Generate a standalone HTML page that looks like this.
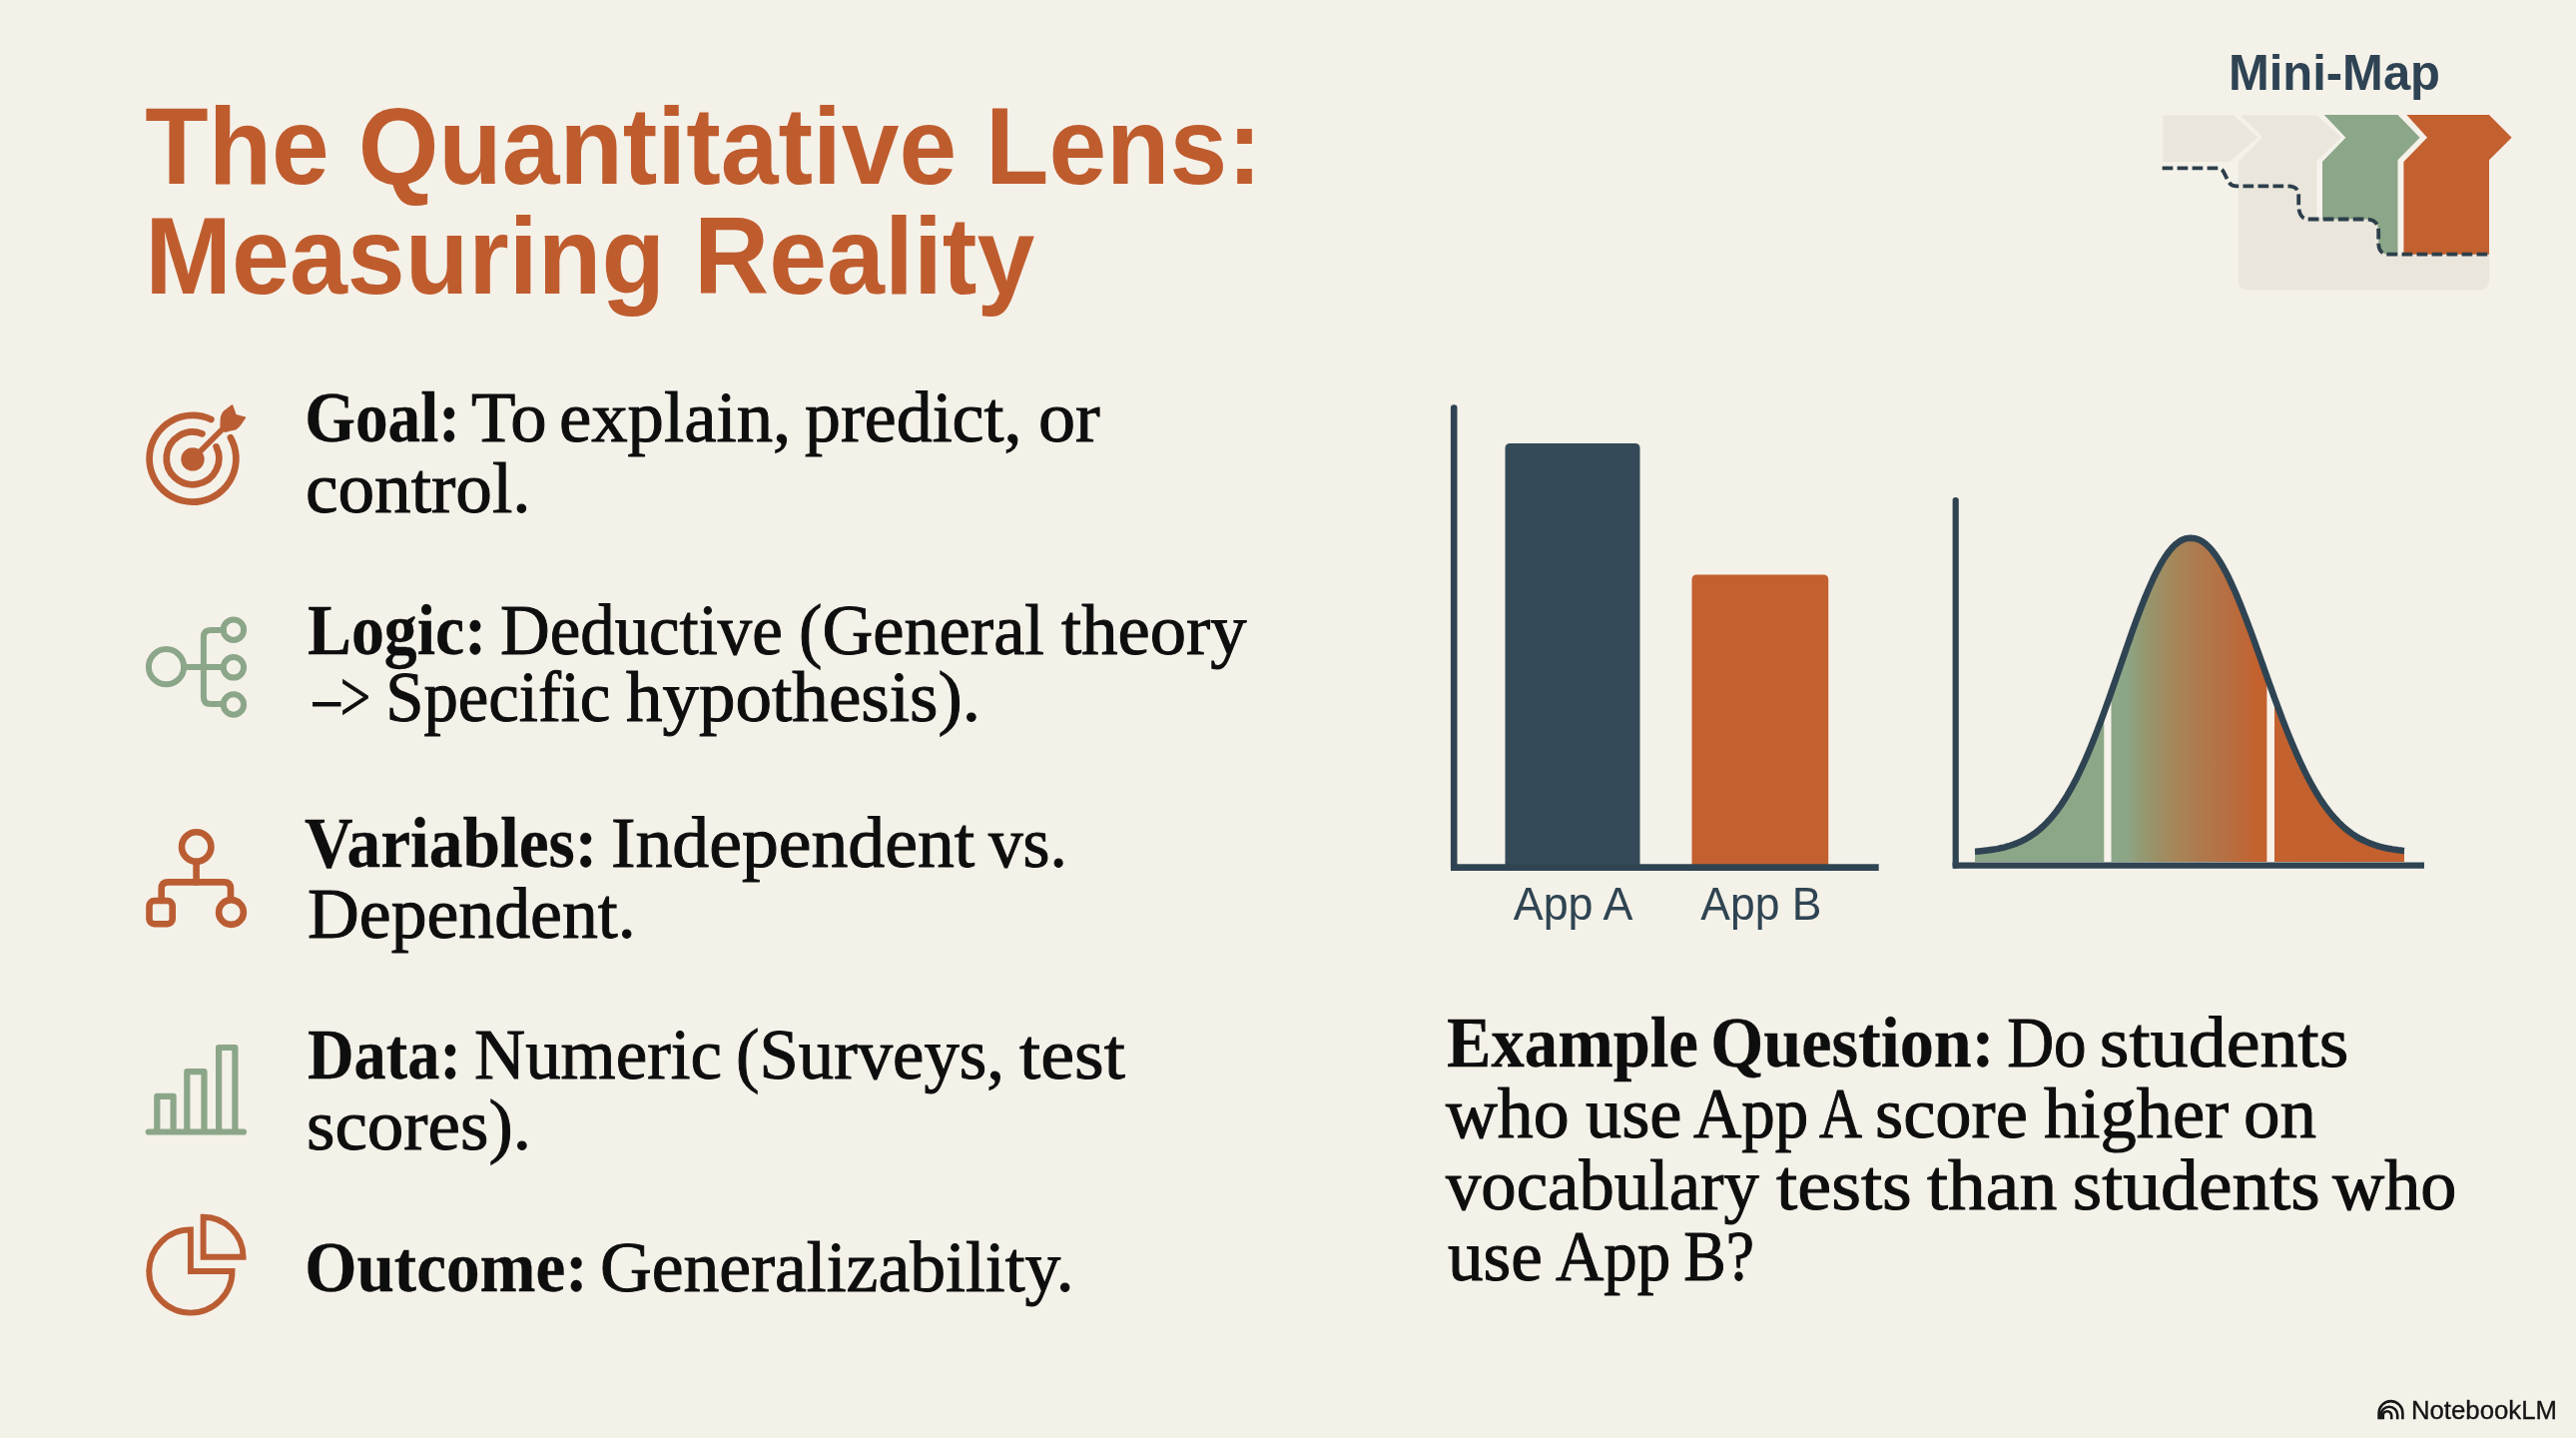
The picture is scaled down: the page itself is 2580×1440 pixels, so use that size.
<!DOCTYPE html>
<html><head><meta charset="utf-8"><title>The Quantitative Lens</title>
<style>
html,body{margin:0;padding:0;background:#F4F1E9;}
body{width:2580px;height:1440px;overflow:hidden;position:relative;}
svg{position:absolute;left:0;top:0;}
.serif text{font-family:"Liberation Serif",serif;}
</style></head>
<body>
<svg width="2580" height="1440" viewBox="0 0 2580 1440">
  <rect width="2580" height="1440" fill="#F4F1E9"/>
  <g font-family="Liberation Sans, sans-serif" font-weight="bold" fill="#BF5C2E" font-size="109">
    <text id="title1" x="145.3707782936343" y="183.6" textLength="1118.38" lengthAdjust="spacingAndGlyphs">The Quantitative Lens:</text>
    <text id="title2" x="145.23246974060257" y="294.4" textLength="891.21" lengthAdjust="spacingAndGlyphs">Measuring Reality</text>
  </g>
  <text id="minimap" x="2231.889006259093" y="89.8" font-family="Liberation Sans, sans-serif" font-weight="bold" font-size="50.5" fill="#2E4353" textLength="212.15" lengthAdjust="spacingAndGlyphs">Mini-Map</text>
  
  <g>
    <!-- big light rounded rect + second chevron -->
    <path d="M 2244.5 115.6 L 2320 115.6 L 2345 137.6 L 2320.4 161 L 2320.4 217 L 2483 217 Q 2493 217 2493 227 L 2493 280.6 Q 2493 290.6 2483 290.6 L 2251.8 290.6 Q 2241.8 290.6 2241.8 280.6 L 2241.8 162 L 2266 137.6 Z" fill="#EAE6DC"/>
    <!-- first chevron -->
    <path d="M 2166.4 115.6 L 2237 115.6 L 2261.3 137.6 L 2233 162 L 2166.4 162 Z" fill="#EAE6DC"/>
    <!-- light gaps -->
    <rect x="2320.4" y="161" width="6" height="57" fill="#F6F3EC"/>
    <rect x="2401" y="150" width="7" height="105" fill="#F6F3EC"/>
    <!-- green -->
    <path d="M 2327.8 115.1 L 2401.5 115.1 L 2423.6 137.7 L 2401.5 160.2 L 2401.5 254.7 L 2392 254.7 C 2385 254.7 2382.5 250 2382.2 244 L 2382.2 231 C 2382 223 2377 219.5 2370 219.5 L 2326 219.5 L 2326 162 L 2349.4 137.7 Z" fill="#8BA688"/>
    <!-- orange -->
    <path d="M 2410.4 115.1 L 2493 115.1 L 2515.6 137.7 L 2493 160.2 L 2493 254.7 L 2407.4 254.7 L 2407.4 162 L 2431 137.7 Z" fill="#C3602F"/>
    <!-- dashed path -->
    <path d="M 2165.6 168.4 L 2221.5 168.4 C 2226 168.4 2227 172 2229 176 L 2231.5 181 C 2233.5 185 2236 186.4 2240 186.4 L 2291.5 186.4 C 2298 186.4 2302 189 2302.2 195 L 2302.2 206 C 2302.5 214 2305 219.5 2312 219.5 L 2370 219.5 C 2377 219.5 2382 223 2382.2 231 L 2382.2 244 C 2382.5 250 2385 254.7 2392 254.7 L 2492.5 254.7" fill="none" stroke="#2C3E4A" stroke-width="3.8" stroke-dasharray="10.7 4.3"/>
  </g>
  
  <g fill="none" stroke="#BA5D33" stroke-width="6.7" stroke-linecap="round">
    <path d="M 211.34 419.97 A 43.4 43.4 0 1 0 230.96 438.26"/>
    <path d="M 202.43 434.35 A 26.3 26.3 0 1 0 216.64 447.37"/>
    <line x1="193" y1="459.5" x2="226" y2="426.5" stroke-width="5.8"/>
  </g>
  <circle cx="193" cy="459.9" r="11.7" fill="#BA5D33"/>
  <path d="M 221 427 L 221.2 419.5 Q 222 414 225 411.5 L 232.6 405.8 L 236.2 415.6 L 245.6 418.2 L 240.8 425.2 Q 238.5 428.5 236 429.8 L 230.5 431 L 225.5 432.5 Z" fill="#BA5D33" stroke="#BA5D33" stroke-width="1.2" stroke-linejoin="round"/>
  
  <g fill="none" stroke="#8BA688" stroke-width="6" stroke-linecap="round" stroke-linejoin="round">
    <circle cx="166.5" cy="667.7" r="17.6"/>
    <circle cx="233.9" cy="630.7" r="10.2"/>
    <circle cx="233.9" cy="668.3" r="10.2"/>
    <circle cx="233.9" cy="705.5" r="10.2"/>
    <path d="M 184 667.9 L 223.7 667.9"/>
    <path d="M 223.7 631 L 211 631 Q 203.9 631 203.9 638 L 203.9 698 Q 203.9 705 211 705 L 223.7 705"/>
  </g>
  
  <g fill="none" stroke="#BA5D33" stroke-width="6.6" stroke-linecap="round" stroke-linejoin="round">
    <circle cx="196.7" cy="848" r="14.7"/>
    <path d="M 196.6 862.7 L 196.6 883.4"/>
    <path d="M 161.7 902 L 161.7 890 Q 161.7 883.4 168.4 883.4 L 224.3 883.4 Q 231 883.4 231 890 L 231 901"/>
    <rect x="149.5" y="902" width="23.2" height="23.2" rx="5"/>
    <circle cx="231.5" cy="913.5" r="12.4"/>
  </g>
  
  <g fill="none" stroke="#8BA688" stroke-width="6.2" stroke-linecap="butt" stroke-linejoin="round">
    <path d="M 157.3 1133.5 L 157.3 1097.8 L 173.6 1097.8 L 173.6 1133.5"/>
    <path d="M 187.3 1133.5 L 187.3 1073.2 L 204.5 1073.2 L 204.5 1133.5"/>
    <path d="M 219.1 1133.5 L 219.1 1049 L 235.4 1049 L 235.4 1133.5"/>
    <path d="M 148.8 1133.5 L 244 1133.5" stroke-linecap="round"/>
  </g>
  
  <g fill="none" stroke="#BA5D33" stroke-width="5.9" stroke-linejoin="miter">
    <path d="M 190.9 1231.4 A 41.6 41.6 0 1 0 232.5 1273 L 190.9 1273 Z"/>
    <path d="M 203.6 1218.8 A 40 40 0 0 1 243.6 1258.8 L 203.6 1258.8 Z"/>
  </g>
  
  <defs>
    <linearGradient id="bg1" x1="1978" y1="0" x2="2408" y2="0" gradientUnits="userSpaceOnUse">
      <stop offset="0.0000" stop-color="#8BA787"/>
      <stop offset="0.3488" stop-color="#8CA787"/>
      <stop offset="0.4000" stop-color="#96966E"/>
      <stop offset="0.4605" stop-color="#A5875A"/>
      <stop offset="0.5209" stop-color="#AD7A4E"/>
      <stop offset="0.5860" stop-color="#B66F42"/>
      <stop offset="0.6558" stop-color="#C3622F"/>
      <stop offset="1.0000" stop-color="#C4602E"/>
    </linearGradient>
  </defs>
  <!-- bar chart -->
  <path d="M 1507.5 868 L 1507.5 449 Q 1507.5 444 1512.5 444 L 1637.5 444 Q 1642.5 444 1642.5 449 L 1642.5 868 Z" fill="#344A58"/>
  <path d="M 1694.5 868 L 1694.5 580.5 Q 1694.5 575.5 1699.5 575.5 L 1826.2 575.5 Q 1831.2 575.5 1831.2 580.5 L 1831.2 868 Z" fill="#C3602F"/>
  <path d="M 1456.2 408.5 L 1456.2 868.6" fill="none" stroke="#2F4452" stroke-width="6.6" stroke-linecap="round"/>
  <path d="M 1453 868.6 L 1881.7 868.6" fill="none" stroke="#2F4452" stroke-width="6.6" stroke-linecap="butt"/>
  <!-- bell -->
  <path d="M 1978.0 852.7 L 1980.0 852.6 L 1982.0 852.4 L 1984.0 852.2 L 1986.0 852.0 L 1988.0 851.8 L 1990.0 851.6 L 1992.0 851.3 L 1994.0 851.0 L 1996.0 850.7 L 1998.0 850.4 L 2000.0 850.1 L 2002.0 849.7 L 2004.0 849.2 L 2006.0 848.8 L 2008.0 848.3 L 2010.0 847.7 L 2012.0 847.2 L 2014.0 846.5 L 2016.0 845.9 L 2018.0 845.1 L 2020.0 844.4 L 2022.0 843.5 L 2024.0 842.6 L 2026.0 841.6 L 2028.0 840.6 L 2030.0 839.5 L 2032.0 838.3 L 2034.0 837.1 L 2036.0 835.7 L 2038.0 834.3 L 2040.0 832.8 L 2042.0 831.2 L 2044.0 829.5 L 2046.0 827.7 L 2048.0 825.7 L 2050.0 823.7 L 2052.0 821.6 L 2054.0 819.4 L 2056.0 817.0 L 2058.0 814.5 L 2060.0 812.0 L 2062.0 809.2 L 2064.0 806.4 L 2066.0 803.4 L 2068.0 800.3 L 2070.0 797.1 L 2072.0 793.7 L 2074.0 790.2 L 2076.0 786.6 L 2078.0 782.8 L 2080.0 778.9 L 2082.0 774.9 L 2084.0 770.7 L 2086.0 766.4 L 2088.0 762.0 L 2090.0 757.4 L 2092.0 752.8 L 2094.0 748.0 L 2096.0 743.1 L 2098.0 738.0 L 2100.0 732.9 L 2102.0 727.7 L 2104.0 722.4 L 2106.0 717.0 L 2108.0 711.5 L 2110.0 705.9 L 2112.0 700.3 L 2114.0 694.6 L 2116.0 688.9 L 2118.0 683.1 L 2120.0 677.3 L 2122.0 671.5 L 2124.0 665.7 L 2126.0 659.9 L 2128.0 654.1 L 2130.0 648.3 L 2132.0 642.6 L 2134.0 636.9 L 2136.0 631.2 L 2138.0 625.7 L 2140.0 620.2 L 2142.0 614.8 L 2144.0 609.5 L 2146.0 604.4 L 2148.0 599.3 L 2150.0 594.5 L 2152.0 589.7 L 2154.0 585.2 L 2156.0 580.7 L 2158.0 576.5 L 2160.0 572.5 L 2162.0 568.7 L 2164.0 565.0 L 2166.0 561.6 L 2168.0 558.4 L 2170.0 555.5 L 2172.0 552.8 L 2174.0 550.3 L 2176.0 548.0 L 2178.0 546.0 L 2180.0 544.3 L 2182.0 542.8 L 2184.0 541.5 L 2186.0 540.5 L 2188.0 539.7 L 2190.0 539.2 L 2192.0 538.9 L 2194.0 538.8 L 2196.0 538.9 L 2198.0 539.2 L 2200.0 539.7 L 2202.0 540.4 L 2204.0 541.3 L 2206.0 542.5 L 2208.0 543.9 L 2210.0 545.6 L 2212.0 547.5 L 2214.0 549.6 L 2216.0 551.9 L 2218.0 554.5 L 2220.0 557.3 L 2222.0 560.3 L 2224.0 563.5 L 2226.0 566.9 L 2228.0 570.5 L 2230.0 574.3 L 2232.0 578.3 L 2234.0 582.5 L 2236.0 586.8 L 2238.0 591.3 L 2240.0 595.9 L 2242.0 600.7 L 2244.0 605.6 L 2246.0 610.6 L 2248.0 615.8 L 2250.0 621.0 L 2252.0 626.3 L 2254.0 631.7 L 2256.0 637.2 L 2258.0 642.7 L 2260.0 648.3 L 2262.0 653.9 L 2264.0 659.5 L 2266.0 665.2 L 2268.0 670.8 L 2270.0 676.4 L 2272.0 682.1 L 2274.0 687.7 L 2276.0 693.2 L 2278.0 698.8 L 2280.0 704.2 L 2282.0 709.6 L 2284.0 715.0 L 2286.0 720.3 L 2288.0 725.4 L 2290.0 730.6 L 2292.0 735.6 L 2294.0 740.5 L 2296.0 745.3 L 2298.0 750.0 L 2300.0 754.6 L 2302.0 759.1 L 2304.0 763.5 L 2306.0 767.7 L 2308.0 771.9 L 2310.0 775.9 L 2312.0 779.8 L 2314.0 783.5 L 2316.0 787.1 L 2318.0 790.7 L 2320.0 794.0 L 2322.0 797.3 L 2324.0 800.4 L 2326.0 803.4 L 2328.0 806.3 L 2330.0 809.1 L 2332.0 811.7 L 2334.0 814.2 L 2336.0 816.7 L 2338.0 819.0 L 2340.0 821.1 L 2342.0 823.2 L 2344.0 825.2 L 2346.0 827.1 L 2348.0 828.9 L 2350.0 830.6 L 2352.0 832.1 L 2354.0 833.7 L 2356.0 835.1 L 2358.0 836.4 L 2360.0 837.7 L 2362.0 838.9 L 2364.0 840.0 L 2366.0 841.0 L 2368.0 842.0 L 2370.0 842.9 L 2372.0 843.8 L 2374.0 844.6 L 2376.0 845.3 L 2378.0 846.0 L 2380.0 846.7 L 2382.0 847.3 L 2384.0 847.8 L 2386.0 848.3 L 2388.0 848.8 L 2390.0 849.3 L 2392.0 849.7 L 2394.0 850.0 L 2396.0 850.4 L 2398.0 850.7 L 2400.0 851.0 L 2402.0 851.3 L 2404.0 851.5 L 2406.0 851.8 L 2408.0 852.0 L 2408 863 L 1978 863 Z" fill="url(#bg1)"/>
  <clipPath id="bellclip"><path d="M 1978.0 852.7 L 1980.0 852.6 L 1982.0 852.4 L 1984.0 852.2 L 1986.0 852.0 L 1988.0 851.8 L 1990.0 851.6 L 1992.0 851.3 L 1994.0 851.0 L 1996.0 850.7 L 1998.0 850.4 L 2000.0 850.1 L 2002.0 849.7 L 2004.0 849.2 L 2006.0 848.8 L 2008.0 848.3 L 2010.0 847.7 L 2012.0 847.2 L 2014.0 846.5 L 2016.0 845.9 L 2018.0 845.1 L 2020.0 844.4 L 2022.0 843.5 L 2024.0 842.6 L 2026.0 841.6 L 2028.0 840.6 L 2030.0 839.5 L 2032.0 838.3 L 2034.0 837.1 L 2036.0 835.7 L 2038.0 834.3 L 2040.0 832.8 L 2042.0 831.2 L 2044.0 829.5 L 2046.0 827.7 L 2048.0 825.7 L 2050.0 823.7 L 2052.0 821.6 L 2054.0 819.4 L 2056.0 817.0 L 2058.0 814.5 L 2060.0 812.0 L 2062.0 809.2 L 2064.0 806.4 L 2066.0 803.4 L 2068.0 800.3 L 2070.0 797.1 L 2072.0 793.7 L 2074.0 790.2 L 2076.0 786.6 L 2078.0 782.8 L 2080.0 778.9 L 2082.0 774.9 L 2084.0 770.7 L 2086.0 766.4 L 2088.0 762.0 L 2090.0 757.4 L 2092.0 752.8 L 2094.0 748.0 L 2096.0 743.1 L 2098.0 738.0 L 2100.0 732.9 L 2102.0 727.7 L 2104.0 722.4 L 2106.0 717.0 L 2108.0 711.5 L 2110.0 705.9 L 2112.0 700.3 L 2114.0 694.6 L 2116.0 688.9 L 2118.0 683.1 L 2120.0 677.3 L 2122.0 671.5 L 2124.0 665.7 L 2126.0 659.9 L 2128.0 654.1 L 2130.0 648.3 L 2132.0 642.6 L 2134.0 636.9 L 2136.0 631.2 L 2138.0 625.7 L 2140.0 620.2 L 2142.0 614.8 L 2144.0 609.5 L 2146.0 604.4 L 2148.0 599.3 L 2150.0 594.5 L 2152.0 589.7 L 2154.0 585.2 L 2156.0 580.7 L 2158.0 576.5 L 2160.0 572.5 L 2162.0 568.7 L 2164.0 565.0 L 2166.0 561.6 L 2168.0 558.4 L 2170.0 555.5 L 2172.0 552.8 L 2174.0 550.3 L 2176.0 548.0 L 2178.0 546.0 L 2180.0 544.3 L 2182.0 542.8 L 2184.0 541.5 L 2186.0 540.5 L 2188.0 539.7 L 2190.0 539.2 L 2192.0 538.9 L 2194.0 538.8 L 2196.0 538.9 L 2198.0 539.2 L 2200.0 539.7 L 2202.0 540.4 L 2204.0 541.3 L 2206.0 542.5 L 2208.0 543.9 L 2210.0 545.6 L 2212.0 547.5 L 2214.0 549.6 L 2216.0 551.9 L 2218.0 554.5 L 2220.0 557.3 L 2222.0 560.3 L 2224.0 563.5 L 2226.0 566.9 L 2228.0 570.5 L 2230.0 574.3 L 2232.0 578.3 L 2234.0 582.5 L 2236.0 586.8 L 2238.0 591.3 L 2240.0 595.9 L 2242.0 600.7 L 2244.0 605.6 L 2246.0 610.6 L 2248.0 615.8 L 2250.0 621.0 L 2252.0 626.3 L 2254.0 631.7 L 2256.0 637.2 L 2258.0 642.7 L 2260.0 648.3 L 2262.0 653.9 L 2264.0 659.5 L 2266.0 665.2 L 2268.0 670.8 L 2270.0 676.4 L 2272.0 682.1 L 2274.0 687.7 L 2276.0 693.2 L 2278.0 698.8 L 2280.0 704.2 L 2282.0 709.6 L 2284.0 715.0 L 2286.0 720.3 L 2288.0 725.4 L 2290.0 730.6 L 2292.0 735.6 L 2294.0 740.5 L 2296.0 745.3 L 2298.0 750.0 L 2300.0 754.6 L 2302.0 759.1 L 2304.0 763.5 L 2306.0 767.7 L 2308.0 771.9 L 2310.0 775.9 L 2312.0 779.8 L 2314.0 783.5 L 2316.0 787.1 L 2318.0 790.7 L 2320.0 794.0 L 2322.0 797.3 L 2324.0 800.4 L 2326.0 803.4 L 2328.0 806.3 L 2330.0 809.1 L 2332.0 811.7 L 2334.0 814.2 L 2336.0 816.7 L 2338.0 819.0 L 2340.0 821.1 L 2342.0 823.2 L 2344.0 825.2 L 2346.0 827.1 L 2348.0 828.9 L 2350.0 830.6 L 2352.0 832.1 L 2354.0 833.7 L 2356.0 835.1 L 2358.0 836.4 L 2360.0 837.7 L 2362.0 838.9 L 2364.0 840.0 L 2366.0 841.0 L 2368.0 842.0 L 2370.0 842.9 L 2372.0 843.8 L 2374.0 844.6 L 2376.0 845.3 L 2378.0 846.0 L 2380.0 846.7 L 2382.0 847.3 L 2384.0 847.8 L 2386.0 848.3 L 2388.0 848.8 L 2390.0 849.3 L 2392.0 849.7 L 2394.0 850.0 L 2396.0 850.4 L 2398.0 850.7 L 2400.0 851.0 L 2402.0 851.3 L 2404.0 851.5 L 2406.0 851.8 L 2408.0 852.0 L 2408 863 L 1978 863 Z"/></clipPath>
  <g clip-path="url(#bellclip)">
  <rect x="2107.3" y="600" width="7.2" height="264" fill="#F7F3EC"/>
  <rect x="2270.4" y="600" width="7.6" height="264" fill="#F8F1E8"/>
  </g>
  <path d="M 1978.0 852.7 L 1980.0 852.6 L 1982.0 852.4 L 1984.0 852.2 L 1986.0 852.0 L 1988.0 851.8 L 1990.0 851.6 L 1992.0 851.3 L 1994.0 851.0 L 1996.0 850.7 L 1998.0 850.4 L 2000.0 850.1 L 2002.0 849.7 L 2004.0 849.2 L 2006.0 848.8 L 2008.0 848.3 L 2010.0 847.7 L 2012.0 847.2 L 2014.0 846.5 L 2016.0 845.9 L 2018.0 845.1 L 2020.0 844.4 L 2022.0 843.5 L 2024.0 842.6 L 2026.0 841.6 L 2028.0 840.6 L 2030.0 839.5 L 2032.0 838.3 L 2034.0 837.1 L 2036.0 835.7 L 2038.0 834.3 L 2040.0 832.8 L 2042.0 831.2 L 2044.0 829.5 L 2046.0 827.7 L 2048.0 825.7 L 2050.0 823.7 L 2052.0 821.6 L 2054.0 819.4 L 2056.0 817.0 L 2058.0 814.5 L 2060.0 812.0 L 2062.0 809.2 L 2064.0 806.4 L 2066.0 803.4 L 2068.0 800.3 L 2070.0 797.1 L 2072.0 793.7 L 2074.0 790.2 L 2076.0 786.6 L 2078.0 782.8 L 2080.0 778.9 L 2082.0 774.9 L 2084.0 770.7 L 2086.0 766.4 L 2088.0 762.0 L 2090.0 757.4 L 2092.0 752.8 L 2094.0 748.0 L 2096.0 743.1 L 2098.0 738.0 L 2100.0 732.9 L 2102.0 727.7 L 2104.0 722.4 L 2106.0 717.0 L 2108.0 711.5 L 2110.0 705.9 L 2112.0 700.3 L 2114.0 694.6 L 2116.0 688.9 L 2118.0 683.1 L 2120.0 677.3 L 2122.0 671.5 L 2124.0 665.7 L 2126.0 659.9 L 2128.0 654.1 L 2130.0 648.3 L 2132.0 642.6 L 2134.0 636.9 L 2136.0 631.2 L 2138.0 625.7 L 2140.0 620.2 L 2142.0 614.8 L 2144.0 609.5 L 2146.0 604.4 L 2148.0 599.3 L 2150.0 594.5 L 2152.0 589.7 L 2154.0 585.2 L 2156.0 580.7 L 2158.0 576.5 L 2160.0 572.5 L 2162.0 568.7 L 2164.0 565.0 L 2166.0 561.6 L 2168.0 558.4 L 2170.0 555.5 L 2172.0 552.8 L 2174.0 550.3 L 2176.0 548.0 L 2178.0 546.0 L 2180.0 544.3 L 2182.0 542.8 L 2184.0 541.5 L 2186.0 540.5 L 2188.0 539.7 L 2190.0 539.2 L 2192.0 538.9 L 2194.0 538.8 L 2196.0 538.9 L 2198.0 539.2 L 2200.0 539.7 L 2202.0 540.4 L 2204.0 541.3 L 2206.0 542.5 L 2208.0 543.9 L 2210.0 545.6 L 2212.0 547.5 L 2214.0 549.6 L 2216.0 551.9 L 2218.0 554.5 L 2220.0 557.3 L 2222.0 560.3 L 2224.0 563.5 L 2226.0 566.9 L 2228.0 570.5 L 2230.0 574.3 L 2232.0 578.3 L 2234.0 582.5 L 2236.0 586.8 L 2238.0 591.3 L 2240.0 595.9 L 2242.0 600.7 L 2244.0 605.6 L 2246.0 610.6 L 2248.0 615.8 L 2250.0 621.0 L 2252.0 626.3 L 2254.0 631.7 L 2256.0 637.2 L 2258.0 642.7 L 2260.0 648.3 L 2262.0 653.9 L 2264.0 659.5 L 2266.0 665.2 L 2268.0 670.8 L 2270.0 676.4 L 2272.0 682.1 L 2274.0 687.7 L 2276.0 693.2 L 2278.0 698.8 L 2280.0 704.2 L 2282.0 709.6 L 2284.0 715.0 L 2286.0 720.3 L 2288.0 725.4 L 2290.0 730.6 L 2292.0 735.6 L 2294.0 740.5 L 2296.0 745.3 L 2298.0 750.0 L 2300.0 754.6 L 2302.0 759.1 L 2304.0 763.5 L 2306.0 767.7 L 2308.0 771.9 L 2310.0 775.9 L 2312.0 779.8 L 2314.0 783.5 L 2316.0 787.1 L 2318.0 790.7 L 2320.0 794.0 L 2322.0 797.3 L 2324.0 800.4 L 2326.0 803.4 L 2328.0 806.3 L 2330.0 809.1 L 2332.0 811.7 L 2334.0 814.2 L 2336.0 816.7 L 2338.0 819.0 L 2340.0 821.1 L 2342.0 823.2 L 2344.0 825.2 L 2346.0 827.1 L 2348.0 828.9 L 2350.0 830.6 L 2352.0 832.1 L 2354.0 833.7 L 2356.0 835.1 L 2358.0 836.4 L 2360.0 837.7 L 2362.0 838.9 L 2364.0 840.0 L 2366.0 841.0 L 2368.0 842.0 L 2370.0 842.9 L 2372.0 843.8 L 2374.0 844.6 L 2376.0 845.3 L 2378.0 846.0 L 2380.0 846.7 L 2382.0 847.3 L 2384.0 847.8 L 2386.0 848.3 L 2388.0 848.8 L 2390.0 849.3 L 2392.0 849.7 L 2394.0 850.0 L 2396.0 850.4 L 2398.0 850.7 L 2400.0 851.0 L 2402.0 851.3 L 2404.0 851.5 L 2406.0 851.8 L 2408.0 852.0" fill="none" stroke="#2F4452" stroke-width="6.5" stroke-linecap="butt" stroke-linejoin="round"/>
  <path d="M 1978 852 L 1978 862" stroke="#2F4452" stroke-width="0"/>
  <path d="M 1958.7 501 L 1958.7 866.7" fill="none" stroke="#2F4452" stroke-width="6.2" stroke-linecap="round"/>
  <path d="M 1955.6 866.7 L 2428 866.7" fill="none" stroke="#2F4452" stroke-width="6.2" stroke-linecap="butt"/>

  <g font-family="Liberation Sans, sans-serif" font-size="46" fill="#2F4452" style="filter:blur(0px)">
    <text id="appA" x="1515.7881114375446" y="921.4" textLength="119.63" lengthAdjust="spacingAndGlyphs">App A</text>
    <text id="appB" x="1703.283130608524" y="921.4" textLength="121.06" lengthAdjust="spacingAndGlyphs">App B</text>
  </g>
  <g class="serif" font-family="Liberation Serif, serif" font-size="72" fill="#0E0E0E" stroke="#0E0E0E" stroke-width="1.0">
<text id="s0_0" x="305.29" y="442.30" font-weight="bold" stroke-width="0.3" textLength="155.76" lengthAdjust="spacingAndGlyphs">Goal:</text>
<text id="s0_1" x="472.02" y="442.30" textLength="75.67" lengthAdjust="spacingAndGlyphs">To</text>
<text id="s0_2" x="559.95" y="442.30" textLength="232.30" lengthAdjust="spacingAndGlyphs">explain,</text>
<text id="s0_3" x="806.00" y="442.30" textLength="217.39" lengthAdjust="spacingAndGlyphs">predict,</text>
<text id="s0_4" x="1039.93" y="442.30" textLength="61.79" lengthAdjust="spacingAndGlyphs">or</text>
<text id="s1_0" x="305.97" y="512.80" textLength="225.65" lengthAdjust="spacingAndGlyphs">control.</text>
<text id="s2_0" x="308.06" y="654.60" font-weight="bold" stroke-width="0.3" textLength="178.99" lengthAdjust="spacingAndGlyphs">Logic:</text>
<text id="s2_1" x="501.06" y="654.60" textLength="282.71" lengthAdjust="spacingAndGlyphs">Deductive</text>
<text id="s2_2" x="800.06" y="654.60" textLength="245.85" lengthAdjust="spacingAndGlyphs">(General</text>
<text id="s2_3" x="1063.00" y="654.60" textLength="185.44" lengthAdjust="spacingAndGlyphs">theory</text>
<text id="s3_0" x="313.82" y="722.20" textLength="57.38" lengthAdjust="spacingAndGlyphs">–&gt;</text>
<text id="s3_1" x="386.16" y="722.20" textLength="225.23" lengthAdjust="spacingAndGlyphs">Specific</text>
<text id="s3_2" x="626.99" y="722.20" textLength="355.06" lengthAdjust="spacingAndGlyphs">hypothesis).</text>
<text id="s4_0" x="305.07" y="867.50" font-weight="bold" stroke-width="0.3" textLength="293.12" lengthAdjust="spacingAndGlyphs">Variables:</text>
<text id="s4_1" x="611.94" y="867.50" textLength="364.33" lengthAdjust="spacingAndGlyphs">Independent</text>
<text id="s4_2" x="990.00" y="867.50" textLength="78.88" lengthAdjust="spacingAndGlyphs">vs.</text>
<text id="s5_0" x="308.01" y="938.60" textLength="328.63" lengthAdjust="spacingAndGlyphs">Dependent.</text>
<text id="s6_0" x="308.11" y="1079.90" font-weight="bold" stroke-width="0.3" textLength="153.72" lengthAdjust="spacingAndGlyphs">Data:</text>
<text id="s6_1" x="475.02" y="1079.90" textLength="247.85" lengthAdjust="spacingAndGlyphs">Numeric</text>
<text id="s6_2" x="737.05" y="1079.90" textLength="268.86" lengthAdjust="spacingAndGlyphs">(Surveys,</text>
<text id="s6_3" x="1020.96" y="1079.90" textLength="105.86" lengthAdjust="spacingAndGlyphs">test</text>
<text id="s7_0" x="306.98" y="1150.70" textLength="225.00" lengthAdjust="spacingAndGlyphs">scores).</text>
<text id="s8_0" x="305.22" y="1292.50" font-weight="bold" stroke-width="0.3" textLength="283.34" lengthAdjust="spacingAndGlyphs">Outcome:</text>
<text id="s8_1" x="601.01" y="1292.50" textLength="474.69" lengthAdjust="spacingAndGlyphs">Generalizability.</text>
<text id="s9_0" x="1449.08" y="1067.60" font-weight="bold" stroke-width="0.3" textLength="251.79" lengthAdjust="spacingAndGlyphs">Example</text>
<text id="s9_1" x="1713.19" y="1067.60" font-weight="bold" stroke-width="0.3" textLength="284.26" lengthAdjust="spacingAndGlyphs">Question:</text>
<text id="s9_2" x="2010.14" y="1067.60" textLength="79.44" lengthAdjust="spacingAndGlyphs">Do</text>
<text id="s9_3" x="2102.86" y="1067.60" textLength="249.42" lengthAdjust="spacingAndGlyphs">students</text>
<text id="s10_0" x="1448.00" y="1139.30" textLength="123.61" lengthAdjust="spacingAndGlyphs">who</text>
<text id="s10_1" x="1587.97" y="1139.30" textLength="96.53" lengthAdjust="spacingAndGlyphs">use</text>
<text id="s10_2" x="1696.01" y="1139.30" textLength="115.27" lengthAdjust="spacingAndGlyphs">App</text>
<text id="s10_3" x="1822.05" y="1139.30" textLength="43.07" lengthAdjust="spacingAndGlyphs">A</text>
<text id="s10_4" x="1878.00" y="1139.30" textLength="152.78" lengthAdjust="spacingAndGlyphs">score</text>
<text id="s10_5" x="2047.00" y="1139.30" textLength="185.25" lengthAdjust="spacingAndGlyphs">higher</text>
<text id="s10_6" x="2246.96" y="1139.30" textLength="73.04" lengthAdjust="spacingAndGlyphs">on</text>
<text id="s11_0" x="1448.00" y="1210.60" textLength="313.96" lengthAdjust="spacingAndGlyphs">vocabulary</text>
<text id="s11_1" x="1779.00" y="1210.60" textLength="135.87" lengthAdjust="spacingAndGlyphs">tests</text>
<text id="s11_2" x="1929.96" y="1210.60" textLength="130.36" lengthAdjust="spacingAndGlyphs">than</text>
<text id="s11_3" x="2075.88" y="1210.60" textLength="247.88" lengthAdjust="spacingAndGlyphs">students</text>
<text id="s11_4" x="2336.00" y="1210.60" textLength="124.51" lengthAdjust="spacingAndGlyphs">who</text>
<text id="s12_0" x="1450.01" y="1282.20" textLength="94.79" lengthAdjust="spacingAndGlyphs">use</text>
<text id="s12_1" x="1558.03" y="1282.20" textLength="115.30" lengthAdjust="spacingAndGlyphs">App</text>
<text id="s12_2" x="1686.24" y="1282.20" textLength="70.71" lengthAdjust="spacingAndGlyphs">B?</text>
  </g>
  <!-- NotebookLM logo -->
  <g fill="none" stroke="#151515" stroke-width="2.6" opacity="0.99">
    <path d="M 2382.6 1421.3 L 2382.6 1415 A 11.9 11.9 0 0 1 2406.4 1415 L 2406.4 1421.3"/>
    <path d="M 2384.6 1421.3 L 2384.6 1417 A 8.3 8.3 0 0 1 2401.2 1417 L 2401.2 1421.3"/>
    <path d="M 2386.8 1421.3 L 2386.8 1417.5 A 4.2 4.2 0 0 1 2395.2 1417.5 L 2395.2 1421.3"/>
  </g>
  <text id="nb" x="2414.9389192334656" y="1421" font-family="Liberation Sans, sans-serif" font-size="25" fill="#151515" stroke="#151515" stroke-width="0.35" style="filter:blur(0px)" textLength="146.03" lengthAdjust="spacingAndGlyphs">NotebookLM</text>
</svg>
</body></html>
